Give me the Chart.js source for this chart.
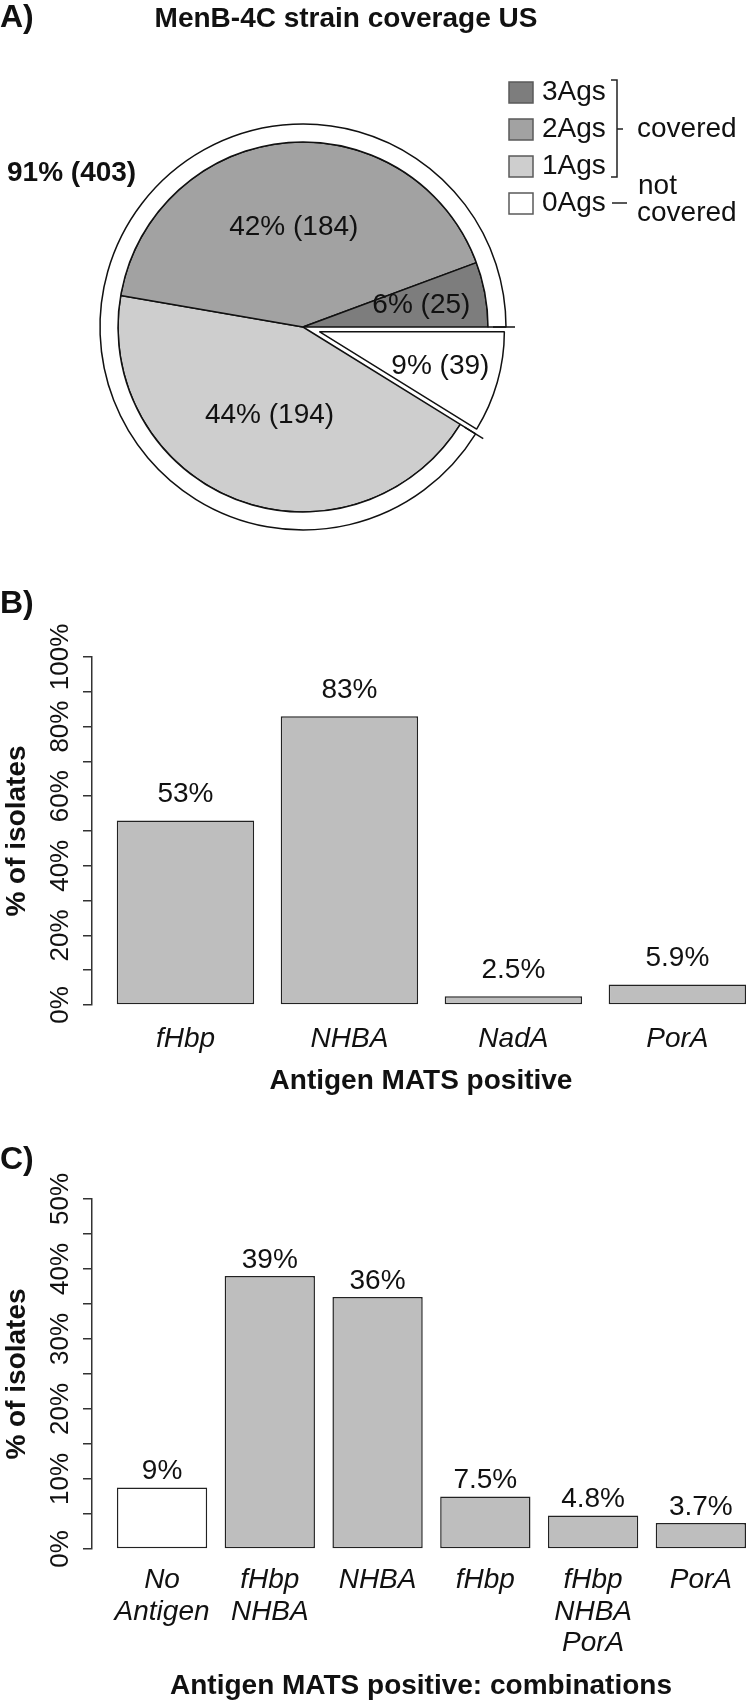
<!DOCTYPE html>
<html>
<head>
<meta charset="utf-8">
<script src="https://cdn.jsdelivr.net/npm/chart.js@4.4.0/dist/chart.umd.min.js"></script>
<style>
  body { margin: 0; background: #fff; }
  #wrap { position: relative; width: 750px; height: 1706px; overflow: hidden; }
  canvas { position: absolute; left: 0; }
</style>
</head>
<body>
<div id="wrap">
  <canvas id="pieA" width="750" height="560" style="top:0px"></canvas>
  <canvas id="barB" width="750" height="560" style="top:560px"></canvas>
  <canvas id="barC" width="750" height="586" style="top:1120px"></canvas>
</div>
<script>
// ---- data ----
// A) strain coverage, legend order
const agGroups = ['3Ags', '2Ags', '1Ags', '0Ags'];
const agCounts = [25, 184, 194, 39];
const agColors = ['#7d7d7d', '#a2a2a2', '#cecece', '#ffffff'];
const coveredCount = 403;
const notCoveredCount = 39;

// B) single antigens
const singleAntigens = ['fHbp', 'NHBA', 'NadA', 'PorA'];
const singlePct = [53, 83, 2.5, 5.9];
const singleLabels = ['53%', '83%', '2.5%', '5.9%'];
const singleTicks = [0, 10, 20, 30, 40, 50, 60, 70, 80, 90, 100];
const singleTickLabels = [0, 20, 40, 60, 80, 100];

// C) antigen combinations
const comboAntigens = [['No', 'Antigen'], ['fHbp', 'NHBA'], 'NHBA', 'fHbp', ['fHbp', 'NHBA', 'PorA'], 'PorA'];
const comboPct = [8.8, 39, 36, 7.5, 4.8, 3.7];
const comboLabels = ['9%', '39%', '36%', '7.5%', '4.8%', '3.7%'];
const comboTicks = [0, 5, 10, 15, 20, 25, 30, 35, 40, 45, 50];
const comboTickLabels = [0, 10, 20, 30, 40, 50];

// ---- style ----
const FONT = "'Liberation Sans', Arial, Helvetica, sans-serif";
const INK = '#111';
const BAR_FILL = '#bebebe';
Chart.defaults.font.family = FONT;
Chart.defaults.color = INK;

// pie is drawn clockwise from 3 o'clock, so reverse the legend order
const pieOrder = [3, 2, 1, 0];
const pieCounts = pieOrder.map(i => agCounts[i]);
const pieColors = pieOrder.map(i => agColors[i]);
const total = agCounts.reduce((a, b) => a + b, 0);
const pieText = pieCounts.map(n => Math.round(n / total * 100) + '% (' + n + ')');
const explodeBy = [17, 0, 0, 0];
const labelRadius = [0.68, 0.51, 0.54, 0.65];

const pieExtras = {
  id: 'pieExtras',
  afterDatasetsUpdate(chart) {
    chart.getDatasetMeta(1).data.forEach((arc, i) => {
      const d = explodeBy[i];
      if (!d) return;
      const mid = (arc.startAngle + arc.endAngle) / 2;
      arc.x += Math.cos(mid) * d;
      arc.y += Math.sin(mid) * d;
    });
  },
  afterDatasetsDraw(chart) {
    const ctx = chart.ctx;
    ctx.save();
    // small ticks closing the "covered" ring
    const ring = chart.getDatasetMeta(0).data[1];
    ctx.strokeStyle = INK;
    ctx.lineWidth = 1.5;
    [ring.startAngle, ring.endAngle].forEach(a => {
      ctx.beginPath();
      ctx.moveTo(ring.x + Math.cos(a) * (ring.innerRadius + 5), ring.y + Math.sin(a) * (ring.innerRadius + 5));
      ctx.lineTo(ring.x + Math.cos(a) * (ring.outerRadius + 9), ring.y + Math.sin(a) * (ring.outerRadius + 9));
      ctx.stroke();
    });

    // slice labels
    ctx.fillStyle = INK;
    ctx.font = '28px ' + FONT;
    ctx.textAlign = 'center';
    ctx.textBaseline = 'middle';
    chart.getDatasetMeta(1).data.forEach((arc, i) => {
      const mid = (arc.startAngle + arc.endAngle) / 2;
      const r = arc.outerRadius * labelRadius[i];
      ctx.fillText(pieText[i], arc.x + Math.cos(mid) * r, arc.y + Math.sin(mid) * r);
    });

    // panel letter, title, covered total
    ctx.textAlign = 'left';
    ctx.font = 'bold 32px ' + FONT;
    ctx.fillText('A)', 0, 18);
    ctx.font = 'bold 28px ' + FONT;
    ctx.textAlign = 'center';
    ctx.fillText('MenB-4C strain coverage US', 346, 19);
    ctx.textAlign = 'left';
    ctx.fillText(Math.round(coveredCount / total * 100) + '% (' + coveredCount + ')', 7, 173);

    // legend
    const lx = 509, ly = 92, step = 37;
    ctx.font = '28px ' + FONT;
    agGroups.forEach((g, i) => {
      const cy = ly + i * step;
      ctx.fillStyle = agColors[i];
      ctx.fillRect(lx, cy - 10, 24, 21);
      ctx.strokeStyle = '#5a5a5a';
      ctx.lineWidth = 1.5;
      ctx.strokeRect(lx, cy - 10, 24, 21);
      ctx.fillStyle = INK;
      ctx.fillText(g, 542, cy);
    });
    ctx.strokeStyle = '#222';
    ctx.lineWidth = 1.5;
    ctx.beginPath();
    ctx.moveTo(611, ly - 12); ctx.lineTo(617, ly - 12);
    ctx.lineTo(617, ly + 2 * step + 11); ctx.lineTo(611, ly + 2 * step + 11);
    ctx.moveTo(617, ly + step); ctx.lineTo(623, ly + step);
    ctx.moveTo(612, ly + 3 * step); ctx.lineTo(627, ly + 3 * step);
    ctx.stroke();
    ctx.fillText('covered', 637, ly + step);
    ctx.fillText('not', 638, 186);
    ctx.fillText('covered', 637, 213);
    ctx.restore();
  }
};

new Chart(document.getElementById('pieA'), {
  type: 'pie',
  data: {
    labels: pieOrder.map(i => agGroups[i]),
    datasets: [
      {
        data: [notCoveredCount, coveredCount],
        backgroundColor: ['rgba(0,0,0,0)', '#ffffff'],
        borderColor: INK,
        borderWidth: [0, 1.5],
        weight: 18,
        radius: 203,
        rotation: 90
      },
      {
        data: pieCounts,
        backgroundColor: pieColors,
        borderColor: INK,
        borderWidth: 1.5,
        weight: 185,
        radius: 203,
        rotation: 90
      }
    ]
  },
  options: {
    responsive: false,
    animation: false,
    events: [],
    layout: { padding: { top: 94, right: 144, bottom: 0, left: 0 } },
    plugins: { legend: { display: false }, tooltip: { enabled: false } }
  },
  plugins: [pieExtras]
});

// ---- bar panels ----
const barExtras = {
  id: 'barExtras',
  afterDatasetsDraw(chart, args, opts) {
    const ctx = chart.ctx;
    ctx.save();
    ctx.fillStyle = INK;
    ctx.font = '28px ' + FONT;
    ctx.textAlign = 'center';
    ctx.textBaseline = 'middle';
    chart.getDatasetMeta(0).data.forEach((bar, i) => {
      ctx.fillText(opts.labels[i], bar.x, bar.y - opts.gap);
    });
    ctx.textAlign = 'left';
    ctx.font = 'bold 32px ' + FONT;
    ctx.fillText(opts.panel, 0, opts.panelY);
    ctx.restore();
  }
};

function barPanel(id, cats, values, labels, fills, ticks, tickLabels, o) {
  return new Chart(document.getElementById(id), {
    type: 'bar',
    data: {
      datasets: [{
        data: values.map((v, i) => ({ x: i, y: v })),
        backgroundColor: fills,
        borderColor: '#222',
        borderWidth: 1.5,
        borderSkipped: false,
        categoryPercentage: 1,
        barPercentage: 0.838
      }]
    },
    options: {
      responsive: false,
      animation: false,
      events: [],
      layout: { padding: { top: o.top, right: 0, bottom: 0, left: 0 } },
      plugins: {
        legend: { display: false },
        tooltip: { enabled: false },
        barExtras: { labels: labels, gap: o.gap, panel: o.panel, panelY: o.panelY }
      },
      scales: {
        x: {
          type: 'linear',
          offset: false,
          min: o.xmin,
          max: o.xmax,
          afterBuildTicks: s => { s.ticks = cats.map((c, i) => ({ value: i })); },
          afterFit: s => { s.height = o.xHeight; },
          grid: { display: false, drawTicks: false },
          border: { display: false },
          ticks: {
            autoSkip: false,
            maxRotation: 0,
            padding: o.xPad,
            font: { size: 28, style: 'italic', lineHeight: 1.12 },
            color: INK,
            callback: v => cats[v]
          },
          title: {
            display: true,
            text: o.xTitle,
            font: { size: 28, weight: 'bold' },
            color: INK,
            padding: { top: 0, bottom: o.titlePad }
          }
        },
        y: {
          min: 0,
          max: ticks[ticks.length - 1],
          afterBuildTicks: s => { s.ticks = ticks.map(v => ({ value: v })); },
          afterFit: s => { s.width = 92; },
          grid: { drawOnChartArea: false, drawTicks: true, tickLength: 9, color: '#333', lineWidth: 1.5 },
          border: { display: true, color: '#333', width: 1.5 },
          ticks: {
            autoSkip: false,
            minRotation: 90,
            maxRotation: 90,
            crossAlign: 'center',
            padding: o.yPad,
            font: { size: 26 },
            color: INK,
            callback: v => tickLabels.includes(v) ? v + '%' : ''
          },
          title: {
            display: true,
            text: '% of isolates',
            font: { size: 28, weight: 'bold' },
            color: INK,
            padding: { top: 0, bottom: 0 }
          }
        }
      }
    },
    plugins: [barExtras]
  });
}

barPanel('barB', singleAntigens, singlePct, singleLabels,
  singleAntigens.map(() => BAR_FILL), singleTicks, singleTickLabels, {
    top: 97, xHeight: 115, xPad: 19, titlePad: 22, yPad: -11,
    xmin: -0.57, xmax: 3.443, gap: 26, panel: 'B)', panelY: 44,
    xTitle: 'Antigen MATS positive'
  });

barPanel('barC', comboAntigens, comboPct, comboLabels,
  comboAntigens.map((c, i) => i === 0 ? '#ffffff' : BAR_FILL), comboTicks, comboTickLabels, {
    top: 79, xHeight: 157, xPad: 16, titlePad: 3, yPad: -4,
    xmin: -0.65, xmax: 5.456, gap: 16, panel: 'C)', panelY: 40,
    xTitle: 'Antigen MATS positive: combinations'
  });
</script>
</body>
</html>
